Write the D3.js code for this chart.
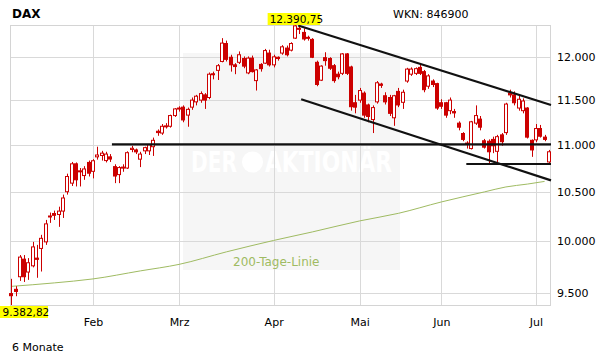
<!DOCTYPE html>
<html><head><meta charset="utf-8">
<script src="https://cdn.jsdelivr.net/npm/d3@7"></script>
<style>
body{margin:0;background:#fff;}
svg{display:block;}
text{font-family:"DejaVu Sans",Verdana,sans-serif;}
</style>
</head><body>
<svg id="c" width="611" height="364"></svg>
<script>
// ---- data (DAX, 6 Monate, daily candles) ----
const openV = [9490,9530,9650,9820,9695,9755,9830,9925,9990,10250,10275,10265,10300,10500,10590,10795,10720,10670,10810,10715,
10870,10885,10830,10870,10765,10680,10760,10750,10950,10945,10845,10935,10935,10980,11150,11130,11200,11205,11325,11400,
11420,11330,11420,11480,11500,11560,11530,11805,11845,11950,12165,12000,11910,11940,11985,11815,11990,11725,11915,11930,
12050,11910,12000,12050,12110,12085,12230,12350,12300,12240,12215,11940,11730,11995,11985,11900,11800,11810,12040,11885,
11470,11500,11580,11445,11280,11480,11685,11550,11530,11300,11600,11475,11720,11800,11810,11880,11830,11660,11720,11690,
11470,11470,11380,11370,11240,11125,11020,10960,11240,11285,11045,11040,11060,10930,11110,11135,11580,11560,11410,11380,
11410,11050,11055,11180,11085,10815];
const highV = [9630,9560,9860,9860,9830,9990,9960,10060,10210,10285,10305,10345,10470,10690,10815,10810,10750,10770,10830,10845,
10980,10935,10925,10900,10790,10770,10790,10930,10990,10960,10925,10980,11010,11080,11170,11230,11240,11335,11410,11430,
11440,11415,11530,11560,11600,11580,11820,11830,11920,12230,12200,12030,11930,12070,12010,12010,12020,11860,11930,12100,
12090,12030,12010,12145,12140,12180,12390.75,12375,12350,12260,12230,11960,11905,12060,12000,11920,11830,12050,12050,11900,
11560,11640,11600,11460,11440,11720,11700,11590,11560,11560,11640,11620,11875,11880,11880,11920,11850,11800,11740,11700,
11510,11480,11530,11400,11260,11140,11040,11265,11440,11320,11065,11060,11090,11110,11130,11470,11620,11600,11560,11520,
11420,11060,11230,11220,11110,10945];
const lowV = [9382.82,9465,9610,9600,9620,9740,9640,9700,9960,10180,10210,10140,10230,10470,10560,10555,10555,10625,10660,10640,
10840,10830,10810,10815,10590,10590,10710,10740,10920,10900,10760,10900,10890,10880,11100,11110,11180,11190,11310,11370,
11250,11200,11390,11440,11470,11400,11510,11740,11732,11940,11950,11830,11800,11920,11870,11800,11820,11610,11830,11920,
11890,11880,11960,12030,12010,12070,12220,12280,12200,12200,11990,11660,11720,11900,11850,11700,11740,11790,11790,11380,
11350,11470,11300,11250,11130,11460,11640,11450,11320,11210,11420,11400,11700,11780,11790,11790,11590,11630,11650,11390,
11400,11300,11340,11300,11160,11040,10960,10950,11220,11160,10960,10800,10910,10810,10990,11110,11530,11440,11380,11350,
11070,10870,11030,11080,11040,10800];
const closeV = [9470,9510,9840,9650,9785,9940,9818,10025,10170,10240,10257,10300,10435,10660,10795,10625,10710,10740,10695,10828,
10890,10910,10900,10846,10665,10755,10752,10915,10963,10924,10900,10970,11000,11050,11135,11205,11210,11325,11400,11410,
11276,11395,11500,11545,11575,11500,11800,11795,11900,12170,11975,11910,11890,12030,11895,11990,11830,11850,11865,12080,
11910,12005,11985,12125,12030,12165,12380,12340,12220,12230,12000,11680,11895,11960,11870,11725,11770,12040,11810,11425,
11420,11610,11330,11315,11415,11700,11670,11480,11350,11550,11445,11590,11860,11860,11865,11810,11620,11780,11680,11410,
11430,11330,11500,11355,11195,11060,11010,11255,11325,11195,10975,10925,10990,11090,11035,11455,11560,11470,11510,11490,
11085,10945,11180,11095,11060,10925];

const monthLabels = ["Feb","Mrz","Apr","Mai","Jun","Jul"];
const monthIndex = [19,39,61,81,100,122];
const yTicks = [9500,10000,10500,11000,11500,12000];

// 200-Tage-Linie, read at sampled candle positions
const smaIndex  = [0,10,19,30,39,50,61,70,81,90,100,110,115,120,124];
const smaValues = [9558,9591,9629,9706,9769,9891,10004,10089,10200,10277,10394,10498,10550,10580,10608];

// drawn trend lines: [startIndex, startValue], [endIndex, endValue]
const trendStart = [[23.4,11005],[66.7,12385],[67.4,11510],[105.8,10793]];
const trendEnd   = [[125.49,11005],[125.49,11445],[125.49,10619],[125.49,10793]];

const highLabel = "12.390,75";
const lowLabel = "9.382,82";

// ---- chart ----
const svg = d3.select("#c");
const L = 10, R = 551, T = 25, B = 305;
const x = d3.scaleLinear().domain([-0.3, 125.49]).range([L, R]);
const y = d3.scaleLog().domain([9382.82, 12390.75]).range([B, T]);
const de = d3.formatLocale({decimal:",", thousands:".", grouping:[3], currency:["","€"]});
const fmt = de.format(",.0f");

// watermark panel
svg.append("rect").attr("x",183).attr("y",53).attr("width",217).attr("height",217).attr("fill","#f6f6f6");
const wm = svg.append("g").attr("fill","#ffffff").style("font-family","'Liberation Sans Narrow','Liberation Sans',sans-serif").style("font-weight","bold");
wm.append("text").attr("x",191).attr("y",172).attr("font-size",29).attr("textLength",46).attr("lengthAdjust","spacingAndGlyphs").text("DER");
wm.append("circle").attr("cx",252.5).attr("cy",162).attr("r",10.5).attr("fill","#ffffff");
wm.append("text").attr("x",265).attr("y",172).attr("font-size",29).attr("textLength",127).attr("lengthAdjust","spacingAndGlyphs").text("AKTIONÄR");

// grid
const grid = svg.append("g");
grid.append("g").attr("transform",`translate(${L},0)`)
  .call(d3.axisLeft(y).tickValues(yTicks).tickSize(-(R-L)).tickFormat(""))
  .call(g=>{g.select(".domain").remove(); g.selectAll("line").attr("stroke","#d9d9d9").attr("shape-rendering","crispEdges");});
grid.append("g").attr("transform",`translate(0,${B})`)
  .call(d3.axisBottom(x).tickValues(monthIndex).tickSize(-(B-T)).tickFormat(""))
  .call(g=>{g.select(".domain").remove(); g.selectAll("line").attr("stroke","#d9d9d9").attr("shape-rendering","crispEdges");});
svg.append("rect").attr("x",L+0.5).attr("y",T+0.5).attr("width",R-L-1).attr("height",B-T)
  .attr("fill","none").attr("stroke","#d4d4d4").attr("shape-rendering","crispEdges");

// 200-day line
const green = "#9fbb62";
const smaData = smaIndex.map((d,i)=>[d, smaValues[i]]);
svg.append("path").datum(smaData)
  .attr("d", d3.line().x(d=>x(d[0])).y(d=>y(d[1])).curve(d3.curveMonotoneX))
  .attr("fill","none").attr("stroke",green).attr("stroke-width",1);
svg.append("text").attr("x",233).attr("y",266).attr("font-size",12).attr("fill",green).text("200-Tage-Linie");

// candles
const red = "#cc0000";
const candles = openV.map((o,i)=>({i, o, h:highV[i], l:lowV[i], c:closeV[i]}));
const cg = svg.append("g");
cg.selectAll("line").data(candles).join("line")
  .attr("x1",d=>Math.round(x(d.i))+0.5).attr("x2",d=>Math.round(x(d.i))+0.5)
  .attr("y1",d=>y(d.h)).attr("y2",d=>y(d.l))
  .attr("stroke",red).attr("stroke-width",1);
cg.selectAll("rect").data(candles).join("rect")
  .attr("x",d=>Math.round(x(d.i))-1.5).attr("width",3)
  .attr("y",d=>Math.min(y(d.o),y(d.c)))
  .attr("height",d=>Math.max(1,Math.abs(y(d.o)-y(d.c))))
  .attr("fill",d=>d.c>=d.o?"#ffffff":red)
  .attr("stroke",red).attr("stroke-width",1);

// trend lines
svg.append("g").selectAll("line").data(trendStart).join("line")
  .attr("x1",d=>x(d[0])).attr("y1",d=>y(d[1]))
  .attr("x2",(d,i)=>x(trendEnd[i][0])).attr("y2",(d,i)=>y(trendEnd[i][1]))
  .attr("stroke","#111").attr("stroke-width",2.2);

// y axis labels
svg.append("g").attr("transform",`translate(557,0)`)
  .call(d3.axisRight(y).tickValues(yTicks).tickSize(0).tickPadding(0).tickFormat(fmt))
  .call(g=>{g.select(".domain").remove(); g.selectAll("text").attr("font-size",11).attr("fill","#000").style("font-family","'DejaVu Sans',Verdana,sans-serif");});

// x axis labels
svg.append("g").attr("transform",`translate(0,${B})`)
  .call(d3.axisBottom(x).tickValues(monthIndex).tickSize(0).tickPadding(13).tickFormat((d,i)=>monthLabels[i]))
  .call(g=>{g.select(".domain").remove(); g.selectAll("text").attr("font-size",11).attr("fill","#000").style("font-family","'DejaVu Sans',Verdana,sans-serif");});

// high / low labels
const hiX = x(66);
svg.append("rect").attr("x",hiX-27.5).attr("y",13).attr("width",52.5).attr("height",12).attr("fill","#ffff00");
svg.append("text").attr("x",hiX-25.5).attr("y",23).attr("font-size",10.5).text(highLabel);
svg.append("rect").attr("x",0).attr("y",y(lowV[0])+1).attr("width",48).attr("height",12).attr("fill","#ffff00");
svg.append("text").attr("x",2.5).attr("y",y(lowV[0])+11).attr("font-size",10.5).text(lowLabel);

// titles
svg.append("text").attr("x",12).attr("y",17.5).attr("font-size",12).attr("font-weight","bold").text("DAX");
svg.append("text").attr("x",393).attr("y",18).attr("font-size",11).text("WKN: 846900");
svg.append("text").attr("x",12).attr("y",351).attr("font-size",11).text("6 Monate");
</script>
</body></html>
